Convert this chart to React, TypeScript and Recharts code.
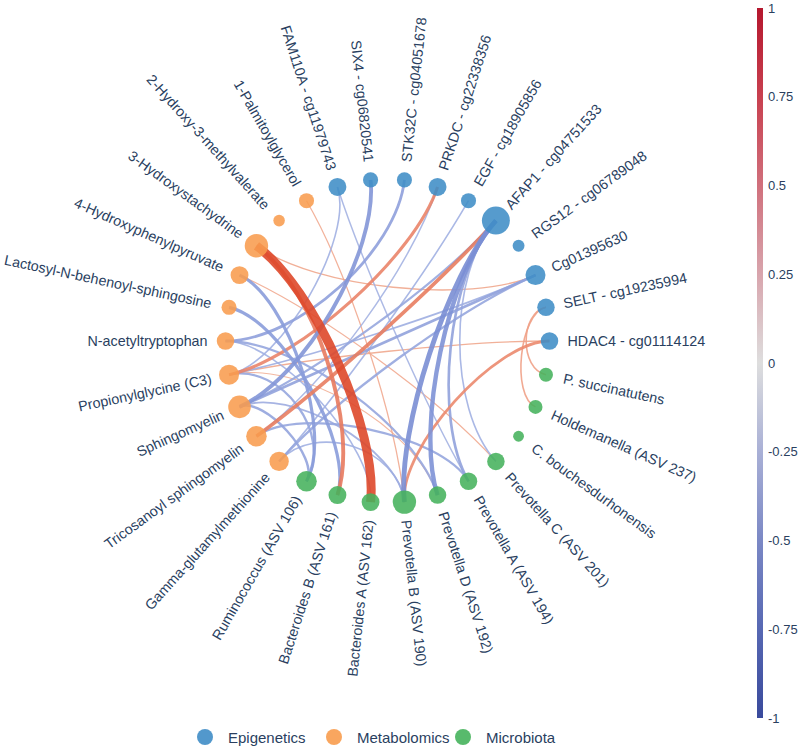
import React from 'react';
import { ScatterChart, Scatter, XAxis, YAxis, ZAxis, Legend } from 'recharts';

// nodes, counter-clockwise from the 3 o'clock position
const nodeNames = [
  'HDAC4 - cg01114124',
  'SELT - cg19235994',
  'Cg01395630',
  'RGS12 - cg06789048',
  'AFAP1 - cg04751533',
  'EGF - cg18905856',
  'PRKDC - cg22338356',
  'STK32C - cg04051678',
  'SIX4 - cg06820541',
  'FAM110A - cg11979743',
  '1-Palmitoylglycerol',
  '2-Hydroxy-3-methylvalerate',
  '3-Hydroxystachydrine',
  '4-Hydroxyphenylpyruvate',
  'Lactosyl-N-behenoyl-sphingosine',
  'N-acetyltryptophan',
  'Propionylglycine (C3)',
  'Sphingomyelin',
  'Tricosanoyl sphingomyelin',
  'Gamma-glutamylmethionine',
  'Ruminococcus (ASV 106)',
  'Bacteroides B (ASV 161)',
  'Bacteroides A (ASV 162)',
  'Prevotella B (ASV 190)',
  'Prevotella D (ASV 192)',
  'Prevotella A (ASV 194)',
  'Prevotella C (ASV 201)',
  'C. bouchesdurhonensis',
  'Holdemanella (ASV 237)',
  'P. succinatutens',
];

const nodeGroups = [
  'Epigenetics', 'Epigenetics', 'Epigenetics', 'Epigenetics', 'Epigenetics',
  'Epigenetics', 'Epigenetics', 'Epigenetics', 'Epigenetics', 'Epigenetics',
  'Metabolomics', 'Metabolomics', 'Metabolomics', 'Metabolomics', 'Metabolomics',
  'Metabolomics', 'Metabolomics', 'Metabolomics', 'Metabolomics', 'Metabolomics',
  'Microbiota', 'Microbiota', 'Microbiota', 'Microbiota', 'Microbiota',
  'Microbiota', 'Microbiota', 'Microbiota', 'Microbiota', 'Microbiota',
];

const nodeSizes = [
  3.9, 3.9, 5.1, 1.8, 10, 2.9, 4.1, 2.9, 2.9, 4.1,
  2.9, 1.7, 7.0, 4.1, 2.9, 3.9, 5.1, 6.5, 5.4, 4.8,
  5.4, 4.1, 4.1, 7.0, 3.9, 3.9, 3.9, 1.5, 2.5, 2.5,
];

const groupNames = ['Epigenetics', 'Metabolomics', 'Microbiota'];
const groupColors: Record<string, string> = {
  Epigenetics: '#3f8dc6',
  Metabolomics: '#f89c4e',
  Microbiota: '#46b25c',
};

// source, target, correlation
const edges: [string, string, number][] = [
  ['3-Hydroxystachydrine', 'Bacteroides A (ASV 162)', 0.95],
  ['3-Hydroxystachydrine', 'Bacteroides B (ASV 161)', 0.62],
  ['Propionylglycine (C3)', 'PRKDC - cg22338356', 0.55],
  ['Tricosanoyl sphingomyelin', 'AFAP1 - cg04751533', 0.6],
  ['HDAC4 - cg01114124', 'Prevotella B (ASV 190)', 0.52],
  ['HDAC4 - cg01114124', 'Propionylglycine (C3)', 0.32],
  ['SELT - cg19235994', 'Holdemanella (ASV 237)', 0.36],
  ['SELT - cg19235994', 'P. succinatutens', 0.36],
  ['3-Hydroxystachydrine', 'Cg01395630', 0.32],
  ['4-Hydroxyphenylpyruvate', 'Prevotella C (ASV 201)', 0.3],
  ['1-Palmitoylglycerol', 'Prevotella B (ASV 190)', 0.3],
  ['Propionylglycine (C3)', 'Prevotella D (ASV 192)', 0.26],
  ['AFAP1 - cg04751533', 'Prevotella B (ASV 190)', -0.7],
  ['AFAP1 - cg04751533', 'Prevotella D (ASV 192)', -0.66],
  ['AFAP1 - cg04751533', 'Prevotella A (ASV 194)', -0.5],
  ['AFAP1 - cg04751533', 'Prevotella C (ASV 201)', -0.36],
  ['AFAP1 - cg04751533', 'Sphingomyelin', -0.45],
  ['SIX4 - cg06820541', 'Sphingomyelin', -0.62],
  ['STK32C - cg04051678', 'N-acetyltryptophan', -0.52],
  ['FAM110A - cg11979743', 'Propionylglycine (C3)', -0.36],
  ['FAM110A - cg11979743', 'Prevotella A (ASV 194)', -0.34],
  ['PRKDC - cg22338356', 'Tricosanoyl sphingomyelin', -0.34],
  ['EGF - cg18905856', 'Gamma-glutamylmethionine', -0.36],
  ['Cg01395630', 'Sphingomyelin', -0.5],
  ['Cg01395630', 'Gamma-glutamylmethionine', -0.46],
  ['Cg01395630', 'Propionylglycine (C3)', -0.38],
  ['4-Hydroxyphenylpyruvate', 'Ruminococcus (ASV 106)', -0.56],
  ['Lactosyl-N-behenoyl-sphingosine', 'Bacteroides B (ASV 161)', -0.56],
  ['N-acetyltryptophan', 'Prevotella D (ASV 192)', -0.46],
  ['N-acetyltryptophan', 'Bacteroides A (ASV 162)', -0.36],
  ['Tricosanoyl sphingomyelin', 'Prevotella A (ASV 194)', -0.46],
  ['Sphingomyelin', 'Prevotella B (ASV 190)', -0.4],
  ['Propionylglycine (C3)', 'Ruminococcus (ASV 106)', -0.46],
  ['Gamma-glutamylmethionine', 'Prevotella B (ASV 190)', -0.36],
  ['Sphingomyelin', 'Ruminococcus (ASV 106)', -0.48],
];

const colorbarTicks = [1, 0.75, 0.5, 0.25, 0, -0.25, -0.5, -0.75, -1];

const FONT = '"Liberation Sans", Arial, sans-serif';
const TEXT = '#2a3f5f';

const nodes = nodeNames.map((name, i) => {
  const angle = (i * 2 * Math.PI) / nodeNames.length;
  return { name, group: nodeGroups[i], size: nodeSizes[i], angle, x: Math.cos(angle), y: Math.sin(angle) };
});

// cubic bezier pulled towards the centre, more for longer chords
const edgeRows = edges
  .map(([s, t, r]) => {
    const a = nodes[nodeNames.indexOf(s)];
    const b = nodes[nodeNames.indexOf(t)];
    const d = Math.hypot(a.x - b.x, a.y - b.y);
    const k = d < 0.77 ? 1.2 : d < 1.42 ? 1.5 : d < 1.85 ? 1.8 : 2.1;
    return {
      r,
      points: [
        { x: a.x, y: a.y },
        { x: a.x / k, y: a.y / k },
        { x: b.x / k, y: b.y / k },
        { x: b.x, y: b.y },
      ],
    };
  })
  .sort((p, q) => Math.abs(p.r) - Math.abs(q.r));

const mix = (c1: number[], c2: number[], t: number) => {
  const u = Math.max(0, Math.min(1, t));
  const c = c1.map((v, i) => Math.round(v + (c2[i] - v) * u));
  return `rgb(${c[0]},${c[1]},${c[2]})`;
};

const edgeColor = (r: number) =>
  r > 0
    ? mix([244, 185, 160], [222, 72, 42], (r - 0.2) / 0.75)
    : mix([180, 192, 232], [110, 132, 208], (-r - 0.2) / 0.6);

const edgeWidth = (r: number) => 0.6 + 9.4 * Math.pow(Math.abs(r), 2.2);

const EmptyShape = () => <g />;

const makeEdgeLine = (r: number) => (props: any) => {
  const p = props.points;
  if (!p || p.length < 4) return <g />;
  const d = `M${p[0].x},${p[0].y} C${p[1].x},${p[1].y} ${p[2].x},${p[2].y} ${p[3].x},${p[3].y}`;
  return (
    <path d={d} fill="none" stroke={edgeColor(r)} strokeWidth={edgeWidth(r)} strokeOpacity={0.9} strokeLinecap="butt" />
  );
};

const NodeShape = (props: any) => {
  const { cx, cy, payload, fill } = props;
  const rad = props.width ? props.width / 2 : Math.sqrt((payload.size * 61.6) / Math.PI);
  const a = payload.angle;
  const c = Math.cos(a);
  const s = Math.sin(a);
  const right = c > 0;
  const lx = cx + c * 18;
  const ly = cy - s * 18;
  const deg = (a * 180) / Math.PI;
  const rot = right ? -deg : 180 - deg;
  return (
    <g>
      <circle cx={cx} cy={cy} r={rad} fill={fill} fillOpacity={0.88} />
      <text
        x={lx}
        y={ly}
        transform={`rotate(${rot} ${lx} ${ly})`}
        textAnchor={right ? 'start' : 'end'}
        dominantBaseline="central"
        fontFamily={FONT}
        fontSize={14.3}
        fill={TEXT}
      >
        {payload.name}
      </text>
    </g>
  );
};

const LegendRow = () => (
  <div style={{ position: 'relative', width: 800, height: 18 }}>
    {groupNames.map((g, i) => (
      <div
        key={g}
        style={{ position: 'absolute', left: 197 + i * 129, top: 0, display: 'flex', alignItems: 'center', height: 16 }}
      >
        <span style={{ width: 16, height: 16, borderRadius: 8, background: groupColors[g], opacity: 0.9, marginRight: 15 }} />
        <span style={{ fontFamily: FONT, fontSize: 15, color: TEXT, whiteSpace: 'nowrap' }}>{g}</span>
      </div>
    ))}
  </div>
);

const Colorbar = () => {
  const top = 8;
  const h = 710;
  const yOf = (v: number) => top + ((1 - v) / 2) * h;
  return (
    <svg width={800} height={753} style={{ position: 'absolute', top: 0, left: 0, pointerEvents: 'none' }}>
      <defs>
        <linearGradient id="cbar" x1="0" y1="0" x2="0" y2="1">
          <stop offset="0%" stopColor="#b5172e" />
          <stop offset="12.5%" stopColor="#c8404f" />
          <stop offset="25%" stopColor="#d0707c" />
          <stop offset="37.5%" stopColor="#d8a5ad" />
          <stop offset="50%" stopColor="#dedede" />
          <stop offset="62.5%" stopColor="#a9b0d6" />
          <stop offset="75%" stopColor="#7b88c5" />
          <stop offset="87.5%" stopColor="#5768b3" />
          <stop offset="100%" stopColor="#3a4a9c" />
        </linearGradient>
      </defs>
      <rect x={757} y={top} width={6} height={h} fill="url(#cbar)" />
      {colorbarTicks.map((v) => (
        <text key={v} x={768} y={yOf(v)} dominantBaseline="central" fontFamily={FONT} fontSize={13} fill={TEXT}>
          {String(v)}
        </text>
      ))}
    </svg>
  );
};

export default function App() {
  return (
    <div style={{ position: 'absolute', top: 0, left: 0, width: 800, height: 753, background: '#fff' }}>
      <ScatterChart width={800} height={753} margin={{ top: 17, right: 88.5, bottom: 88, left: 63.5 }}>
        <XAxis type="number" dataKey="x" domain={[-2, 2]} hide />
        <YAxis type="number" dataKey="y" domain={[-2, 2]} hide />
        <ZAxis type="number" dataKey="size" domain={[0, 10]} range={[0, 616]} />
        {edgeRows.map((e, i) => (
          <Scatter
            key={`edge-${i}`}
            name={`edge-${i}`}
            data={e.points}
            shape={EmptyShape}
            line={makeEdgeLine(e.r)}
            legendType="none"
            isAnimationActive={false}
          />
        ))}
        {groupNames.map((g) => (
          <Scatter
            key={g}
            name={g}
            data={nodes.filter((n) => n.group === g)}
            fill={groupColors[g]}
            shape={NodeShape}
            legendType="circle"
            isAnimationActive={false}
          />
        ))}
        <Legend
          layout="horizontal"
          verticalAlign="middle"
          align="center"
          wrapperStyle={{ position: 'absolute', top: 729, left: 0, width: 800 }}
          content={() => <LegendRow />}
        />
      </ScatterChart>
      <Colorbar />
    </div>
  );
}
